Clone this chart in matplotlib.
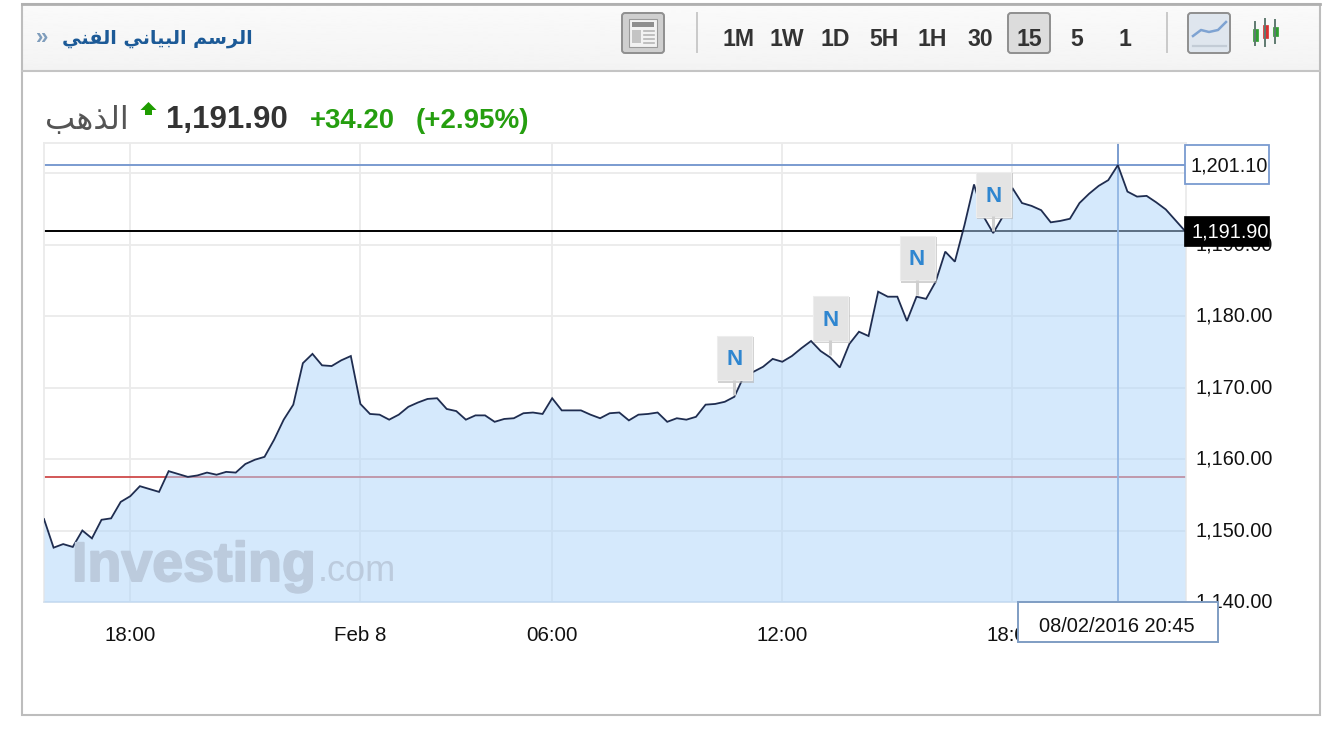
import numpy as np
import matplotlib
matplotlib.use("Agg")
import matplotlib.pyplot as plt
from matplotlib.patches import Rectangle, FancyBboxPatch, Polygon
from matplotlib.transforms import ScaledTranslation
import matplotlib.patheffects as pe

# ---------- data ----------
prices = [
    1151.6, 1147.6, 1148.1, 1147.7, 1150.0, 1148.9, 1151.5, 1151.7, 1154.0, 1154.8,
    1156.2, 1155.8, 1155.4, 1158.3, 1157.9, 1157.5, 1157.7, 1158.1, 1157.8, 1158.2,
    1158.1, 1159.3, 1159.9, 1160.3, 1162.7, 1165.5, 1167.6, 1173.4, 1174.7, 1173.1,
    1173.0, 1173.8, 1174.4, 1167.7, 1166.3, 1166.2, 1165.5, 1166.2, 1167.3, 1167.9,
    1168.4, 1168.5, 1167.0, 1166.7, 1165.5, 1166.1, 1166.1, 1165.2, 1165.6, 1165.7,
    1166.4, 1166.5, 1166.3, 1168.5, 1166.8, 1166.8, 1166.8, 1166.2, 1165.7, 1166.4,
    1166.5, 1165.4, 1166.2, 1166.3, 1166.5, 1165.2, 1165.7, 1165.5, 1165.9, 1167.6,
    1167.7, 1168.0, 1168.7, 1171.6, 1172.2, 1172.9, 1174.0, 1173.6, 1174.4, 1175.5,
    1176.5, 1175.1, 1174.2, 1172.8, 1176.1, 1177.8, 1177.2, 1183.4, 1182.7, 1182.7,
    1179.3, 1182.7, 1182.4, 1184.8, 1189.0, 1187.6, 1192.7, 1198.4, 1193.9, 1191.6,
    1193.9, 1197.9, 1195.8, 1195.4, 1194.8, 1193.1, 1193.3, 1193.6, 1195.8, 1197.1,
    1198.2, 1199.0, 1201.1, 1197.4, 1196.7, 1196.8, 1195.9, 1194.9, 1193.4, 1191.9,
]
x_tick_positions = [9, 33, 53, 77, 101]
x_tick_labels = ["18:00", "Feb 8", "06:00", "12:00", "18:00"]
y_ticks = [1140, 1150, 1160, 1170, 1180, 1190, 1200]
y_tick_labels = ["1,140.00", "1,150.00", "1,160.00", "1,170.00", "1,180.00", "1,190.00", ""]
prev_close = 1157.5
last_price = 1191.9
cross_index = 112
cross_price = 1201.1
cross_label = "08/02/2016 20:45"
news_indices = [72, 82, 91, 99]
timeframes = ["1M", "1W", "1D", "5H", "1H", "30", "15", "5", "1"]
title_text = "الرسم البياني الفني"
name_text = "الذهب"
price_text = "1,191.90"
change_text = "+34.20"
pct_text = "(+2.95%)"

# ---------- Arabic shaping (matplotlib draws glyphs left to right, unjoined) ----------
FORMS = {
    "ا": (0xFE8D, 0xFE8E, None, None), "ذ": (0xFEAB, 0xFEAC, None, None),
    "ر": (0xFEAD, 0xFEAE, None, None), "ل": (0xFEDD, 0xFEDE, 0xFEDF, 0xFEE0),
    "س": (0xFEB1, 0xFEB2, 0xFEB3, 0xFEB4), "م": (0xFEE1, 0xFEE2, 0xFEE3, 0xFEE4),
    "ب": (0xFE8F, 0xFE90, 0xFE91, 0xFE92), "ي": (0xFEF1, 0xFEF2, 0xFEF3, 0xFEF4),
    "ن": (0xFEE5, 0xFEE6, 0xFEE7, 0xFEE8), "ف": (0xFED1, 0xFED2, 0xFED3, 0xFED4),
    "ه": (0xFEE9, 0xFEEA, 0xFEEB, 0xFEEC),
}
def shape(text):
    out = []
    for k, ch in enumerate(text):
        if ch not in FORMS:
            out.append(ch)
            continue
        prev_joins = k > 0 and text[k-1] in FORMS and FORMS[text[k-1]][2] is not None
        next_joins = k + 1 < len(text) and text[k+1] in FORMS
        f = FORMS[ch]
        can_fwd = f[2] is not None
        if prev_joins and next_joins and can_fwd:
            out.append(chr(f[3]))
        elif prev_joins:
            out.append(chr(f[1]))
        elif next_joins and can_fwd:
            out.append(chr(f[2]))
        else:
            out.append(chr(f[0]))
    return "".join(reversed(out))

# ---------- figure ----------
W, H = 1330, 744
plt.rcParams["font.family"] = ["Liberation Sans", "DejaVu Sans"]
fig = plt.figure(figsize=(W/100, H/100), dpi=100, facecolor="white")
L, R, T, B = 44, 1186, 143, 602
ax = fig.add_axes([L/W, 1-B/H, (R-L)/W, (B-T)/H])
n = len(prices)
xs = np.arange(n)
ax.set_xlim(0, (R-L)/9.588)
ax.set_ylim(1140, 1140+(B-T)/7.15)

GRID = "#ebebeb"
ax.set_axisbelow(True)
ax.grid(True, color=GRID, lw=1.3, zorder=1)
ax.axhline(prev_close, color="#cf4a4a", lw=1.3, zorder=2)
ax.axhline(last_price, color="#000000", lw=1.4, zorder=2)
ax.axhline(cross_price, color="#7a9bd0", lw=1.4, zorder=2)
ax.axvline(cross_index, color="#6f94cc", lw=1.3, zorder=2)
ax.fill_between(xs, prices, 1140, color=(176/255, 213/255, 250/255), alpha=0.52, lw=0, zorder=3)
ax.plot(xs, prices, color="#1f2d50", lw=1.3, zorder=4, solid_joinstyle="miter")

for s in ax.spines.values():
    s.set_color(GRID)
    s.set_linewidth(1.3)
ax.spines["bottom"].set_color("#d9e2ec")

ax.set_xticks(x_tick_positions, x_tick_labels)
ax.set_yticks(y_ticks, y_tick_labels)
ax.yaxis.tick_right()
ax.tick_params(axis="x", length=0, pad=17.5, labelsize=14.8, labelcolor="#111111")
ax.tick_params(axis="y", length=0, pad=7, labelsize=14.3, labelcolor="#111111")
for lbl in ax.get_yticklabels():
    lbl.set_transform(lbl.get_transform() + ScaledTranslation(0, 1.6/100, fig.dpi_scale_trans))

# ---------- overlay in pixel coordinates ----------
ui = fig.add_axes([0, 0, 1, 1], zorder=5)
ui.patch.set_alpha(0)
ui.axis("off")

def rect(x0, y0, x1, y1, **kw):
    p = Rectangle((x0, y0), x1-x0, y1-y0, **kw)
    ui.add_patch(p)
    return p

def button(x0, y0, x1, y1, face="#dedede"):
    ui.add_patch(FancyBboxPatch((x0+2, y0+2), x1-x0-4, y1-y0-4,
                                boxstyle="round,pad=2,rounding_size=3",
                                fc=face, ec="#8f8f8f", lw=1.4))

# header
grad = np.linspace(0.98, 0.955, 64).reshape(-1, 1)
ui.imshow(grad, extent=(23, 1319, 70, 4), aspect="auto", cmap="gray", vmin=0, vmax=1, zorder=0)
ui.set_xlim(0, W)
ui.set_ylim(H, 0)
ui.plot([22, 1320], [71, 71], color="#c4c4c4", lw=1.5)
rect(22, 3.5, 1320, 715, fc="none", ec="#bdbdbd", lw=1.5)
ui.plot([22, 1320], [3.5, 3.5], color="#b0b0b0", lw=2)

ui.text(36, 39, "»", color="#7f9dbc", fontsize=16, fontweight="bold", va="center", ha="left")
ui.text(253, 38.5, shape(title_text), color="#1c5a97", fontsize=13.8, fontweight="bold",
        family="DejaVu Sans", va="center", ha="right")

# news icon
button(622, 13, 664, 53, "#cfcfcf")
rect(629, 19, 657, 47, fc="#f2f2f2", ec="#9a9a9a", lw=0.8)
rect(632, 22, 654, 27, fc="#8e8e8e", ec="none")
rect(632, 30, 641, 43, fc="#c4c4c4", ec="none")
for yy in (31, 35, 39, 43):
    ui.plot([644, 654], [yy, yy], color="#b5b5b5", lw=1.2)

ui.plot([697, 697], [13, 52], color="#c9c9c9", lw=1.4)
ui.plot([1167, 1167], [13, 52], color="#c9c9c9", lw=1.4)

button(1008, 13, 1050, 53, "#dcdcdc")
tf_centers = [739, 787, 835, 884, 932, 980, 1029, 1077, 1125]
for lab, cx in zip(timeframes, tf_centers):
    ui.text(cx, 39.5, lab, fontsize=16.6, fontweight="bold", color="#333333", ha="center", va="center")

# line icon
button(1188, 13, 1230, 53, "#dfe6ee")
ui.plot([1193, 1201, 1209, 1218, 1226], [36, 30, 32, 30, 22], color="#7ea3d2", lw=1.8)
ui.plot([1193, 1226], [46, 46], color="#c3ccd6", lw=1.6)

# candle icon
for cx, c, top, bot, y0, y1 in [(1255, "#2f9e2f", 22, 45, 29, 41), (1265, "#d93030", 19, 46, 25, 38), (1275, "#2f9e2f", 20, 43, 27, 36)]:
    ui.plot([cx, cx], [top, bot], color="#5f7a70", lw=1.4)
    rect(cx-2.5, y0, cx+2.5, y1, fc=c, ec=c, lw=0.5)

# quote line
ui.text(129, 120, shape(name_text), fontsize=23, color="#555555", family="DejaVu Sans", ha="right", va="center")
ui.add_patch(Polygon([(148.5, 102), (156.5, 110), (152, 110), (152, 115), (145, 115), (145, 110), (140.5, 110)],
                     fc="#1f9c00", ec="none"))
ui.text(166, 120, price_text, fontsize=22.5, fontweight="bold", color="#333333", ha="left", va="center")
ui.text(310, 121, change_text, fontsize=19.8, fontweight="bold", color="#259e0f", ha="left", va="center")
ui.text(416, 121, pct_text, fontsize=20, fontweight="bold", color="#259e0f", ha="left", va="center")

# watermark
wm = ui.text(72, 581, "Investing", fontsize=40, fontweight="bold", color="#bccbdd",
             ha="left", va="baseline")
wm.set_path_effects([pe.withStroke(linewidth=1.4, foreground="#bccbdd")])
ui.text(318, 581, ".com", fontsize=26, color="#bccbdd", ha="left", va="baseline")

# news flags, anchored on the data points
def to_px(ix, v):
    px, py = ax.transData.transform((ix, v))
    return px, H - py
for ix in news_indices:
    px, py = to_px(ix, prices[ix])
    ui.plot([px, px], [py-17, py-2], color="#cfcfcf", lw=2.2, solid_capstyle="butt")
    rect(px-16, py-60, px+20, py-14, fc="#b5b5b5", ec="none", alpha=0.6)
    rect(px-17, py-61, px+18, py-16.5, fc="#e4e4e4", ec="#ededed", lw=0.8)
    ui.text(px+0.5, py-37, "N", fontsize=16, fontweight="bold", color="#2f86d0", ha="center", va="center")

# price tags
rect(1185, 145, 1269, 184, fc="white", ec="#7a9bd0", lw=1.3)
ui.text(1229.5, 166.5, f"{cross_price:,.2f}", fontsize=14.3, color="#111111", ha="center", va="center")
rect(1184, 216, 1269, 246, fc="black", ec="black", lw=0.5)
ui.text(1230, 232, f"{last_price:,.2f}", fontsize=14.3, color="white", ha="center", va="center")

# crosshair date tag
rect(1018, 602, 1218, 642, fc="white", ec="#7f9dc3", lw=1.4)
ui.text(1116.5, 626.5, cross_label, fontsize=14.4, color="#111111", ha="center", va="center")

fig.savefig("out.png", dpi=100, facecolor="white")
